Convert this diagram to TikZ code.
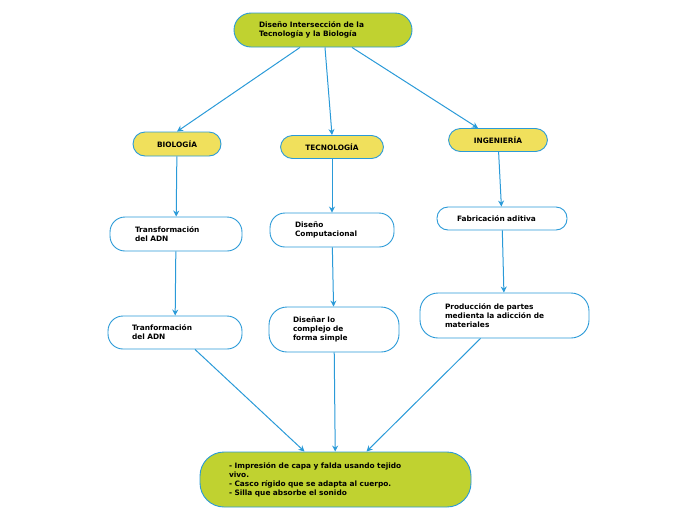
\documentclass[tikz,border=0pt]{standalone}
\usepackage{fontspec}
\setmainfont{DejaVu Sans}
\usetikzlibrary{arrows.meta}
\definecolor{bl}{HTML}{2A9AD8}
\definecolor{gr}{HTML}{C0D230}
\definecolor{ye}{HTML}{F0E05C}
\begin{document}
\begin{tikzpicture}[x=1pt,y=-1pt,
 box/.style={draw=bl,line width=0.9pt,rounded corners=12pt,align=left,font=\fontsize{7.4}{9}\selectfont\bfseries,inner sep=0pt},
 arr/.style={draw=bl,line width=1pt,-{Stealth[length=6pt,width=6pt]}}]
\useasboundingbox (0,0) rectangle (696,520);
\node[box,fill=gr,minimum width=178pt,minimum height=34pt,rounded corners=17pt,text width=128pt] (top) at (323,30) {Diseño Intersección de la\\Tecnología y la Biología};
\node[box,fill=ye,minimum width=88pt,minimum height=24pt,align=center] (bio) at (177,144) {BIOLOGÍA};
\node[box,fill=ye,minimum width=103pt,minimum height=23pt,align=center] (tec) at (332,147) {TECNOLOGÍA};
\node[box,fill=ye,minimum width=99pt,minimum height=23pt,align=center] (ing) at (498,140) {INGENIERÍA};
\node[box,fill=white,minimum width=132pt,minimum height=34pt,rounded corners=15pt,text width=82pt] (t1) at (176,234) {Transformación\\del ADN};
\node[box,fill=white,minimum width=124pt,minimum height=34pt,rounded corners=15pt,text width=74pt] (d1) at (332,230) {Diseño\\Computacional};
\node[box,fill=white,minimum width=130pt,minimum height=23pt,rounded corners=11pt,text width=90pt] (f1) at (502,218.5) {Fabricación aditiva};
\node[box,fill=white,minimum width=134pt,minimum height=33pt,rounded corners=15pt,text width=86pt] (t2) at (175,332.5) {Tranformación\\del ADN};
\node[box,fill=white,minimum width=130pt,minimum height=45pt,rounded corners=18pt,text width=82pt] (d2) at (334,329.5) {Diseñar lo\\complejo de\\forma simple};
\node[box,fill=white,minimum width=169pt,minimum height=45pt,rounded corners=18pt,text width=119pt] (p2) at (504.5,315.5) {Producción de partes\\medienta la adicción de\\materiales};
\node[box,fill=gr,minimum width=271pt,minimum height=55pt,rounded corners=24pt,text width=213pt] (bot) at (335.5,479.5) {- Impresión de capa y falda usando tejido\\vivo.\\- Casco rígido que se adapta al cuerpo.\\- Silla que absorbe el sonido};
\draw[arr] ([xshift=-23pt]top.south) -- (bio.north);
\draw[arr] ([xshift=2pt]top.south) -- (tec.north);
\draw[arr] ([xshift=29pt]top.south) -- ([xshift=-20pt]ing.north);
\draw[arr] (bio) -- (t1);
\draw[arr] (tec) -- (d1);
\draw[arr] (ing) -- (f1);
\draw[arr] (t1) -- (t2);
\draw[arr] (d1) -- (d2);
\draw[arr] (f1) -- (p2);
\draw[arr] ([xshift=20pt]t2.south) -- ([xshift=-31pt]bot.north);
\draw[arr] (d2) -- (bot);
\draw[arr] ([xshift=-24pt]p2.south) -- ([xshift=31pt]bot.north);
\end{tikzpicture}
\end{document}
